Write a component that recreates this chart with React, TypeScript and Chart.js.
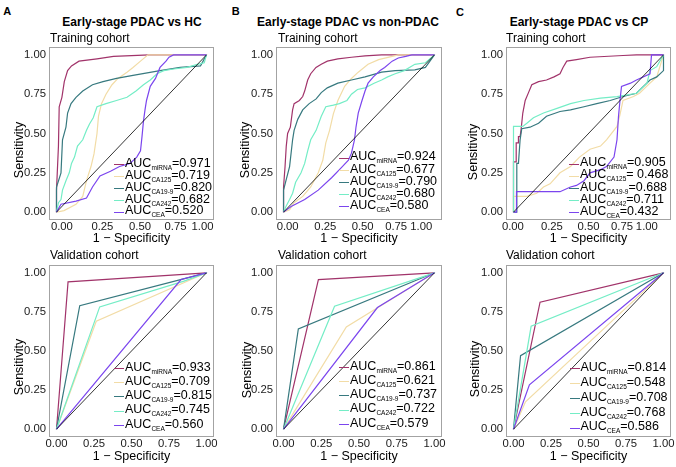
import React, { useEffect, useRef } from 'react';
import { Chart, registerables } from 'chart.js';

Chart.register(...registerables);

const FONT = '"Liberation Sans", Arial, Helvetica, sans-serif';

// ---------- labels ----------
const seriesNames = ['miRNA', 'CA125', 'CA19-9', 'CA242', 'CEA'];
const seriesColors = ['#A1336A', '#F2DCA6', '#37797F', '#74EDC6', '#7B45EE'];
const tickValues = [0, 0.25, 0.5, 0.75, 1];
const tickLabels = ['0.00', '0.25', '0.50', '0.75', '1.00'];
// x tick label positions as printed under the training panels
const trainTicksHC = [0.036, 0.306, 0.557, 0.793, 0.973];
const trainTicksNon = [0.027, 0.277, 0.524, 0.746, 0.913];
const trainTicksCP = [-0.004, 0.256, 0.5, 0.723, 0.889];

const panelLetters = ['A', 'B', 'C'];
const panelTitles = ['Early-stage PDAC vs HC', 'Early-stage PDAC vs non-PDAC', 'Early-stage PDAC vs CP'];
const cohortLabels = ['Training cohort', 'Validation cohort'];
const xAxisTitle = '1 − Specificity';
const yAxisTitle = 'Sensitivity';

const aucTrainHC = ['=0.971', '=0.719', '=0.820', '=0.682', '=0.520'];
const aucTrainNon = ['=0.924', '=0.677', '=0.790', '=0.680', '=0.580'];
const aucTrainCP = ['=0.905', '= 0.468', '=0.688', '=0.711', '=0.432'];
const aucValidHC = ['=0.933', '=0.709', '=0.815', '=0.745', '=0.560'];
const aucValidNon = ['=0.861', '=0.621', '=0.737', '=0.722', '=0.579'];
const aucValidCP = ['=0.814', '=0.548', '=0.708', '=0.768', '=0.586'];

// ---------- Training, PDAC vs HC ----------
const tHC_miRNA_x = [0, 0, 0.013, 0.018, 0.036, 0.052, 0.074, 0.10, 0.15, 0.27, 0.38, 0.62, 1];
const tHC_miRNA_y = [0, 0.14, 0.42, 0.67, 0.73, 0.83, 0.90, 0.93, 0.96, 0.975, 0.99, 1, 1];
const tHC_CA125_x = [0, 0.05, 0.13, 0.175, 0.20, 0.23, 0.25, 0.27, 0.28, 0.30, 0.33, 0.37, 0.41, 0.47, 0.51, 0.56, 0.61, 1];
const tHC_CA125_y = [0, 0.01, 0.05, 0.10, 0.20, 0.29, 0.37, 0.50, 0.61, 0.69, 0.75, 0.81, 0.85, 0.89, 0.92, 0.96, 1, 1];
const tHC_CA199_x = [0, 0, 0.03, 0.04, 0.063, 0.074, 0.097, 0.13, 0.175, 0.24, 0.31, 0.40, 0.51, 0.69, 0.825, 0.96, 1];
const tHC_CA199_y = [0, 0.16, 0.25, 0.46, 0.54, 0.63, 0.69, 0.73, 0.77, 0.81, 0.83, 0.85, 0.87, 0.90, 0.92, 0.93, 1];
const tHC_CA242_x = [0, 0.013, 0.03, 0.04, 0.063, 0.085, 0.10, 0.12, 0.14, 0.175, 0.20, 0.22, 0.245, 0.27, 0.33, 0.40, 0.47, 0.53, 0.58, 0.625, 0.67, 0.715, 0.78, 0.87, 0.94, 0.985, 1];
const tHC_CA242_y = [0, 0.06, 0.08, 0.14, 0.20, 0.25, 0.31, 0.35, 0.42, 0.46, 0.52, 0.56, 0.60, 0.67, 0.69, 0.71, 0.73, 0.77, 0.81, 0.84, 0.88, 0.90, 0.91, 0.92, 0.94, 0.95, 1];
const tHC_CEA_x = [0, 0.03, 0.13, 0.20, 0.24, 0.29, 0.36, 0.42, 0.49, 0.535, 0.56, 0.57, 0.58, 0.59, 0.60, 0.625, 0.66, 0.69, 0.73, 0.75, 0.78, 1];
const tHC_CEA_y = [0, 0.05, 0.07, 0.09, 0.16, 0.23, 0.26, 0.29, 0.31, 0.35, 0.39, 0.48, 0.58, 0.65, 0.71, 0.80, 0.85, 0.92, 0.96, 0.985, 1, 1];

// ---------- Training, PDAC vs non-PDAC ----------
const tNon_miRNA_x = [0, 0, 0.01, 0.018, 0.027, 0.045, 0.06, 0.07, 0.105, 0.127, 0.14, 0.16, 0.18, 0.215, 0.25, 0.29, 0.36, 0.45, 0.54, 0.65, 1];
const tNon_miRNA_y = [0, 0.16, 0.29, 0.42, 0.50, 0.54, 0.65, 0.69, 0.71, 0.735, 0.77, 0.84, 0.88, 0.92, 0.94, 0.96, 0.975, 0.985, 0.994, 1, 1];
const tNon_CA125_x = [0, 0.04, 0.07, 0.127, 0.18, 0.23, 0.26, 0.28, 0.305, 0.33, 0.36, 0.405, 0.45, 0.495, 0.56, 0.63, 0.72, 0.76, 1];
const tNon_CA125_y = [0, 0.015, 0.06, 0.10, 0.16, 0.25, 0.33, 0.44, 0.52, 0.625, 0.71, 0.80, 0.85, 0.89, 0.94, 0.97, 0.99, 1, 1];
const tNon_CA199_x = [0, 0, 0.016, 0.04, 0.06, 0.07, 0.094, 0.127, 0.17, 0.216, 0.25, 0.29, 0.36, 0.45, 0.54, 0.65, 0.74, 0.87, 0.94, 1];
const tNon_CA199_y = [0, 0.14, 0.20, 0.29, 0.46, 0.52, 0.59, 0.65, 0.69, 0.72, 0.76, 0.79, 0.82, 0.84, 0.86, 0.89, 0.90, 0.905, 0.92, 1];
const tNon_CA242_x = [0, 0.016, 0.04, 0.06, 0.08, 0.116, 0.14, 0.16, 0.18, 0.216, 0.25, 0.28, 0.33, 0.37, 0.42, 0.45, 0.49, 0.54, 0.60, 0.65, 0.69, 0.74, 0.80, 0.87, 0.94, 1];
const tNon_CA242_y = [0, 0.036, 0.08, 0.12, 0.19, 0.25, 0.31, 0.39, 0.46, 0.52, 0.61, 0.67, 0.68, 0.69, 0.71, 0.75, 0.78, 0.79, 0.82, 0.84, 0.86, 0.88, 0.90, 0.94, 0.95, 1];
const tNon_CEA_x = [0, 0.05, 0.14, 0.23, 0.32, 0.38, 0.43, 0.45, 0.47, 0.48, 0.495, 0.52, 0.54, 0.56, 0.595, 0.64, 0.67, 0.72, 0.76, 0.81, 0.85, 1];
const tNon_CEA_y = [0, 0.036, 0.08, 0.14, 0.22, 0.28, 0.33, 0.375, 0.46, 0.54, 0.63, 0.71, 0.77, 0.82, 0.86, 0.90, 0.92, 0.96, 0.98, 0.99, 1, 1];

// ---------- Training, PDAC vs CP ----------
const tCP_miRNA_x = [0, 0, 0.018, 0.018, 0.033, 0.033, 0.044, 0.05, 0.062, 0.078, 0.10, 0.122, 0.167, 0.22, 0.27, 0.31, 0.33, 0.355, 0.42, 0.51, 0.73, 0.82, 1];
const tCP_miRNA_y = [0, 0.32, 0.32, 0.44, 0.44, 0.48, 0.48, 0.52, 0.63, 0.71, 0.76, 0.81, 0.83, 0.84, 0.86, 0.88, 0.92, 0.96, 0.97, 0.985, 0.996, 1, 1];
const tCP_CA125_x = [0, 0, 0.089, 0.155, 0.2, 0.244, 0.31, 0.38, 0.44, 0.51, 0.58, 0.62, 0.69, 0.71, 0.73, 0.8, 0.84, 0.91, 0.955, 1];
const tCP_CA125_y = [0, 0.1, 0.1, 0.12, 0.16, 0.18, 0.25, 0.29, 0.35, 0.40, 0.42, 0.46, 0.545, 0.62, 0.71, 0.735, 0.756, 0.82, 0.86, 1];
const tCP_CA199_x = [0, 0.022, 0.022, 0.033, 0.044, 0.055, 0.11, 0.167, 0.22, 0.31, 0.38, 0.47, 0.555, 0.645, 0.73, 0.82, 0.91, 0.955, 1, 1];
const tCP_CA199_y = [0, 0, 0.31, 0.31, 0.46, 0.53, 0.54, 0.565, 0.61, 0.64, 0.65, 0.67, 0.69, 0.71, 0.735, 0.756, 0.84, 0.86, 0.9, 1];
const tCP_CA242_x = [0, 0, 0.062, 0.089, 0.133, 0.2, 0.29, 0.38, 0.47, 0.58, 0.69, 0.82, 0.89, 0.91, 0.955, 1];
const tCP_CA242_y = [0, 0.545, 0.545, 0.565, 0.60, 0.63, 0.66, 0.69, 0.71, 0.725, 0.735, 0.756, 0.82, 0.90, 0.925, 1];
const tCP_CEA_x = [0, 0.02, 0.02, 0.31, 0.38, 0.42, 0.47, 0.51, 0.58, 0.62, 0.67, 0.69, 0.70, 0.71, 0.72, 0.78, 0.82, 0.91, 0.92, 1];
const tCP_CEA_y = [0, 0, 0.13, 0.13, 0.16, 0.17, 0.20, 0.25, 0.27, 0.29, 0.35, 0.46, 0.61, 0.71, 0.80, 0.82, 0.84, 0.88, 1, 1];

// ---------- Validation, PDAC vs HC ----------
const vHC_miRNA_x = [0, 0.077, 1];
const vHC_miRNA_y = [0, 0.942, 1];
const vHC_CA125_x = [0, 0.265, 1];
const vHC_CA125_y = [0, 0.69, 1];
const vHC_CA199_x = [0, 0.155, 0.84, 1];
const vHC_CA199_y = [0, 0.79, 0.96, 1];
const vHC_CA242_x = [0, 0.288, 0.85, 1];
const vHC_CA242_y = [0, 0.782, 0.947, 1];
const vHC_CEA_x = [0, 0.83, 1];
const vHC_CEA_y = [0, 0.957, 1];

// ---------- Validation, PDAC vs non-PDAC ----------
const vNon_miRNA_x = [0, 0.231, 1];
const vNon_miRNA_y = [0, 0.957, 1];
const vNon_CA125_x = [0, 0.416, 1];
const vNon_CA125_y = [0, 0.654, 1];
const vNon_CA199_x = [0, 0.098, 1];
const vNon_CA199_y = [0, 0.641, 1];
const vNon_CA242_x = [0, 0.338, 1];
const vNon_CA242_y = [0, 0.786, 1];
const vNon_CEA_x = [0, 0.622, 1];
const vNon_CEA_y = [0, 0.778, 1];

// ---------- Validation, PDAC vs CP ----------
const vCP_miRNA_x = [0, 0.177, 1];
const vCP_miRNA_y = [0, 0.812, 1];
const vCP_CA125_x = [0, 0.08, 1];
const vCP_CA125_y = [0, 0.175, 1];
const vCP_CA199_x = [0, 0.047, 1];
const vCP_CA199_y = [0, 0.47, 1];
const vCP_CA242_x = [0, 0.1175, 1];
const vCP_CA242_y = [0, 0.658, 1];
const vCP_CEA_x = [0, 0.106, 1];
const vCP_CEA_y = [0, 0.284, 1];

// ---------- layout ----------
const colL = [49, 276, 506];
const colR = [214, 442, 671];
const rowT = [47, 265];
const rowB = [220, 437];

type PanelDef = {
  col: number; row: number; xs: number[][]; ys: number[][]; xTicks: number[]; aucs: string[];
  legendX: number; legendY: number; legendDy: number;
};

const panels: PanelDef[] = [
  { col: 0, row: 0, xs: [tHC_miRNA_x, tHC_CA125_x, tHC_CA199_x, tHC_CA242_x, tHC_CEA_x], ys: [tHC_miRNA_y, tHC_CA125_y, tHC_CA199_y, tHC_CA242_y, tHC_CEA_y], xTicks: trainTicksHC, aucs: aucTrainHC, legendX: 125, legendY: 163, legendDy: 11.9 },
  { col: 1, row: 0, xs: [tNon_miRNA_x, tNon_CA125_x, tNon_CA199_x, tNon_CA242_x, tNon_CEA_x], ys: [tNon_miRNA_y, tNon_CA125_y, tNon_CA199_y, tNon_CA242_y, tNon_CEA_y], xTicks: trainTicksNon, aucs: aucTrainNon, legendX: 350, legendY: 156.5, legendDy: 12.2 },
  { col: 2, row: 0, xs: [tCP_miRNA_x, tCP_CA125_x, tCP_CA199_x, tCP_CA242_x, tCP_CEA_x], ys: [tCP_miRNA_y, tCP_CA125_y, tCP_CA199_y, tCP_CA242_y, tCP_CEA_y], xTicks: trainTicksCP, aucs: aucTrainCP, legendX: 580, legendY: 162.5, legendDy: 12.1 },
  { col: 0, row: 1, xs: [vHC_miRNA_x, vHC_CA125_x, vHC_CA199_x, vHC_CA242_x, vHC_CEA_x], ys: [vHC_miRNA_y, vHC_CA125_y, vHC_CA199_y, vHC_CA242_y, vHC_CEA_y], xTicks: tickValues, aucs: aucValidHC, legendX: 125, legendY: 366.7, legendDy: 14.3 },
  { col: 1, row: 1, xs: [vNon_miRNA_x, vNon_CA125_x, vNon_CA199_x, vNon_CA242_x, vNon_CEA_x], ys: [vNon_miRNA_y, vNon_CA125_y, vNon_CA199_y, vNon_CA242_y, vNon_CEA_y], xTicks: tickValues, aucs: aucValidNon, legendX: 350, legendY: 366, legendDy: 14.2 },
  { col: 2, row: 1, xs: [vCP_miRNA_x, vCP_CA125_x, vCP_CA199_x, vCP_CA242_x, vCP_CEA_x], ys: [vCP_miRNA_y, vCP_CA125_y, vCP_CA199_y, vCP_CA242_y, vCP_CEA_y], xTicks: tickValues, aucs: aucValidCP, legendX: 580.5, legendY: 367.3, legendDy: 14.8 },
];

const boxPlugin = {
  id: 'panelBox',
  beforeDatasetsDraw(chart: any) {
    const { ctx, chartArea: a } = chart;
    ctx.save();
    ctx.strokeStyle = '#A3A3A3';
    ctx.lineWidth = 1;
    ctx.strokeRect(a.left + 0.5, a.top + 0.5, a.right - a.left - 1, a.bottom - a.top - 1);
    ctx.restore();
  },
};

const PAD = { left: 4, top: 10, right: 8, bottom: 2 };
const Y_W = 26;
const X_H = 14;

function RocCanvas({ p }: { p: PanelDef }) {
  const ref = useRef<HTMLCanvasElement>(null);
  const L = colL[p.col], R = colR[p.col], T = rowT[p.row], B = rowB[p.row];
  const left = L - PAD.left - Y_W;
  const top = T - PAD.top;
  const width = R - left + PAD.right;
  const height = B - top + X_H + PAD.bottom;

  useEffect(() => {
    if (!ref.current) return;
    const datasets: any[] = [
      {
        label: 'reference',
        data: [{ x: 0, y: 0 }, { x: 1, y: 1 }],
        borderColor: '#000000',
        borderWidth: 0.8,
        order: 0,
      },
    ];
    seriesNames.forEach((name, i) => {
      datasets.push({
        label: name,
        data: p.xs[i].map((x, j) => ({ x, y: p.ys[i][j] })),
        borderColor: seriesColors[i],
        borderWidth: 1.2,
        order: 5 - i,
      });
    });
    datasets.forEach((d) => {
      d.showLine = true;
      d.pointRadius = 0;
      d.fill = false;
      d.tension = 0;
    });
    const tickFont = { family: FONT, size: 11.3, lineHeight: 1 };
    const chart = new Chart(ref.current, {
      type: 'scatter',
      data: { datasets },
      options: {
        responsive: false,
        animation: false,
        devicePixelRatio: 1,
        events: [],
        layout: { padding: PAD },
        plugins: { legend: { display: false }, tooltip: { enabled: false }, title: { display: false } },
        scales: {
          x: {
            type: 'linear',
            min: -0.05,
            max: 1.05,
            grid: { display: false, drawTicks: false },
            border: { display: false },
            afterBuildTicks: (s: any) => { s.ticks = p.xTicks.map((v) => ({ value: v })); },
            afterFit: (s: any) => { s.height = X_H; },
            ticks: {
              autoSkip: false,
              maxRotation: 0,
              minRotation: 0,
              padding: 1,
              color: '#1a1a1a',
              font: tickFont,
              callback: (_v: any, i: number) => tickLabels[i],
            },
          },
          y: {
            type: 'linear',
            min: -0.05,
            max: 1.05,
            grid: { display: false, drawTicks: false },
            border: { display: false },
            afterBuildTicks: (s: any) => { s.ticks = tickValues.map((v) => ({ value: v })); },
            afterFit: (s: any) => { s.width = Y_W; },
            ticks: {
              autoSkip: false,
              padding: 3,
              color: '#1a1a1a',
              font: tickFont,
              callback: (_v: any, i: number) => tickLabels[i],
            },
          },
        },
      },
      plugins: [boxPlugin],
    } as any);
    return () => chart.destroy();
  }, []);

  return (
    <canvas
      ref={ref}
      width={width}
      height={height}
      style={{ position: 'absolute', left, top, width, height }}
    />
  );
}

function Txt(props: { x: number; y: number; size: number; bold?: boolean; center?: boolean; children: any }) {
  const { x, y, size, bold, center, children } = props;
  return (
    <div
      style={{
        position: 'absolute',
        left: x,
        top: y - 0.4885 * size,
        fontSize: size,
        lineHeight: size + 'px',
        fontWeight: bold ? 700 : 400,
        whiteSpace: 'nowrap',
        color: '#000',
        transform: center ? 'translateX(-50%)' : undefined,
      }}
    >
      {children}
    </div>
  );
}

function Legend({ p }: { p: PanelDef }) {
  return (
    <>
      {seriesNames.map((n, i) => {
        const cy = p.legendY + i * p.legendDy;
        return (
          <React.Fragment key={n}>
            <div
              style={{
                position: 'absolute',
                left: Math.round(p.legendX) - 11,
                top: Math.round(cy) + 1,
                width: 10,
                height: 1,
                background: seriesColors[i],
              }}
            />
            <div
              style={{
                position: 'absolute',
                left: p.legendX,
                top: cy - 0.4885 * 12.5,
                fontSize: 12.5,
                lineHeight: '12.5px',
                whiteSpace: 'nowrap',
                color: '#000',
              }}
            >
              AUC<span style={{ fontSize: 6.5, position: 'relative', top: 3 }}>{n}</span>
              {p.aucs[i]}
            </div>
          </React.Fragment>
        );
      })}
    </>
  );
}

const letterX = [3.3, 231.7, 456];
const letterY = [11, 11.7, 12];
const titleCX = [132, 348, 579];
const cohortX = [50, 278, 506];
const cohortY = [38.3, 255.2];
const xTitleY = [238.5, 456.5];
const yTitleX = [[19.3, 245, 473.3], [18.7, 246.7, 475]];
const yTitleY = [[150, 150, 152], [367, 370, 369]];

export default function App() {
  return (
    <div
      style={{
        position: 'absolute',
        left: 0,
        top: 0,
        width: 676,
        height: 467,
        background: '#ffffff',
        overflow: 'hidden',
        fontFamily: FONT,
      }}
    >
      {panels.map((p, k) => (
        <RocCanvas key={'c' + k} p={p} />
      ))}
      {panelLetters.map((l, c) => (
        <Txt key={'l' + c} x={letterX[c]} y={letterY[c]} size={11} bold>
          {l}
        </Txt>
      ))}
      {panelTitles.map((t, c) => (
        <Txt key={'t' + c} x={titleCX[c]} y={22.3} size={12} bold center>
          {t}
        </Txt>
      ))}
      {[0, 1].map((r) =>
        [0, 1, 2].map((c) => (
          <React.Fragment key={'ax' + r + c}>
            <Txt x={cohortX[c]} y={cohortY[r]} size={12}>
              {cohortLabels[r]}
            </Txt>
            <Txt x={(colL[c] + colR[c]) / 2} y={xTitleY[r]} size={12.5} center>
              {xAxisTitle}
            </Txt>
            <div
              style={{
                position: 'absolute',
                left: yTitleX[r][c],
                top: yTitleY[r][c],
                fontSize: 12.5,
                lineHeight: '12.5px',
                whiteSpace: 'nowrap',
                transform: 'translate(-50%, -50%) rotate(-90deg)',
              }}
            >
              {yAxisTitle}
            </div>
          </React.Fragment>
        ))
      )}
      {panels.map((p, k) => (
        <Legend key={'lg' + k} p={p} />
      ))}
    </div>
  );
}
